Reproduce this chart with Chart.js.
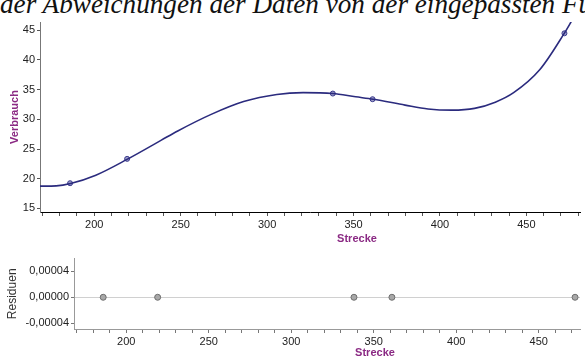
<!DOCTYPE html>
<html>
<head>
<meta charset="utf-8">
<script src="https://cdn.jsdelivr.net/npm/chart.js@4.4.1/dist/chart.umd.min.js"></script>
<style>
  body { margin: 0; background: #fff; width: 585px; height: 360px; overflow: hidden; position: relative; }
  #head { position: absolute; left: 0; top: -11px; white-space: nowrap; font: italic 27.2px "Liberation Serif", serif; color: #111; }
  #box1 { position: absolute; left: 0; top: 0; width: 585px; height: 250px; }
  #box2 { position: absolute; left: 0; top: 250px; width: 585px; height: 110px; }
  .xt { position: absolute; font: bold 11px "Liberation Sans", Arial, sans-serif; color: #8b2a84; transform: translateX(-50%); }
</style>
</head>
<body>
<div id="head">der Abweichungen der Daten von der eingepassten Funktion</div>
<div id="box1"><canvas id="myChart1"></canvas></div>
<div id="box2"><canvas id="myChart2"></canvas></div>
<div class="xt" style="left:357px; top:232px;">Strecke</div>
<div class="xt" style="left:375px; top:346px;">Strecke</div>
<script>
// measured points
var strecke = [186, 219, 338, 361, 472];
var verbrauch = [19.25, 23.35, 34.35, 33.4, 44.5];
var residuen = [0, 0, 0, 0, 0];

// fitted curve
var kurveX = [168.6, 178, 186.3, 200.9, 219.2, 238.8, 248.3, 267.3, 286.4, 305.6, 320.8, 337.9, 351.2, 361.4, 379.8, 393.1, 407, 420, 432, 442.6, 457.8, 471.7, 476.8];
var kurveY = [18.75, 18.8, 19.2, 20.6, 23.3, 26.5, 28.05, 30.8, 33.0, 34.2, 34.5, 34.35, 33.8, 33.4, 32.4, 31.75, 31.55, 31.85, 32.9, 34.5, 38.4, 44.4, 46.9];

var tickFont = { family: "Liberation Sans", size: 11 };
var purple = "#8b2a84";

function pts(xs, ys) {
  return xs.map(function(x, i) { return { x: x, y: ys[i] }; });
}
function xLabel(v) {
  return v % 50 === 0 ? String(v) : "";
}

var ctx = document.getElementById("myChart1").getContext("2d");
var myChart1 = new Chart(ctx, {
  type: "scatter",
  data: {
    datasets: [{
      type: "line",
      data: pts(kurveX, kurveY),
      borderColor: "#2b2b7e",
      borderWidth: 1.6,
      pointRadius: 0,
      cubicInterpolationMode: "monotone",
      fill: false
    }, {
      data: pts(strecke, verbrauch),
      pointRadius: 2.5,
      borderWidth: 1,
      borderColor: "#3a3a8c",
      backgroundColor: "#9d9dc9"
    }]
  },
  options: {
    responsive: true,
    maintainAspectRatio: false,
    animation: false,
    layout: { padding: { top: 22, right: 2 } },
    plugins: { legend: { display: false }, tooltip: { enabled: false } },
    scales: {
      x: {
        type: "linear",
        min: 168.6,
        max: 481,
        afterFit: function(s) { s.height = 38; },
        ticks: { stepSize: 10, callback: xLabel, autoSkip: false, maxRotation: 0, font: tickFont, color: "#222", padding: 2, includeBounds: false },
        grid: { drawOnChartArea: false, tickLength: 4, tickColor: "#555" },
        border: { color: "#000" }
      },
      y: {
        min: 14.4,
        max: 46.4,
        afterFit: function(s) { s.width = 40; },
        ticks: { stepSize: 5, font: tickFont, color: "#222", padding: 2, includeBounds: false },
        grid: { drawOnChartArea: false, tickLength: 3, tickColor: "#555" },
        border: { color: "#777" },
        title: { display: true, text: "Verbrauch", color: purple, font: { family: "Liberation Sans", size: 11, weight: "bold" }, padding: { top: 8, bottom: 0 } }
      }
    }
  }
});

var ctx2 = document.getElementById("myChart2").getContext("2d");
var myChart2 = new Chart(ctx2, {
  type: "scatter",
  data: {
    datasets: [{
      data: pts(strecke, residuen),
      pointRadius: 3,
      borderWidth: 1,
      borderColor: "#6e6e6e",
      backgroundColor: "#a8a8a8"
    }]
  },
  options: {
    responsive: true,
    maintainAspectRatio: false,
    animation: false,
    layout: { padding: { top: 7, right: 2 } },
    plugins: { legend: { display: false }, tooltip: { enabled: false } },
    scales: {
      x: {
        type: "linear",
        min: 168.3,
        max: 475,
        afterFit: function(s) { s.height = 31; },
        ticks: { stepSize: 10, callback: xLabel, autoSkip: false, maxRotation: 0, font: tickFont, color: "#222", padding: 2, includeBounds: false },
        grid: { drawOnChartArea: false, tickLength: 4, tickColor: "#777" },
        border: { color: "#999" }
      },
      y: {
        min: -0.0000488,
        max: 0.0000595,
        afterFit: function(s) { s.width = 74; },
        ticks: {
          stepSize: 0.00004,
          includeBounds: false,
          font: tickFont,
          color: "#222",
          padding: 2,
          callback: function(v) { return v.toFixed(5).replace(".", ","); }
        },
        grid: {
          tickLength: 3,
          tickColor: "#777",
          color: function(c) { return c.tick && Math.abs(c.tick.value) < 1e-9 ? "#d0d0d0" : "rgba(0,0,0,0)"; }
        },
        border: { color: "#999" },
        title: { display: true, text: "Residuen", color: "#333", font: { family: "Liberation Sans", size: 12 }, padding: { top: 5, bottom: 0 } }
      }
    }
  }
});
</script>
</body>
</html>
